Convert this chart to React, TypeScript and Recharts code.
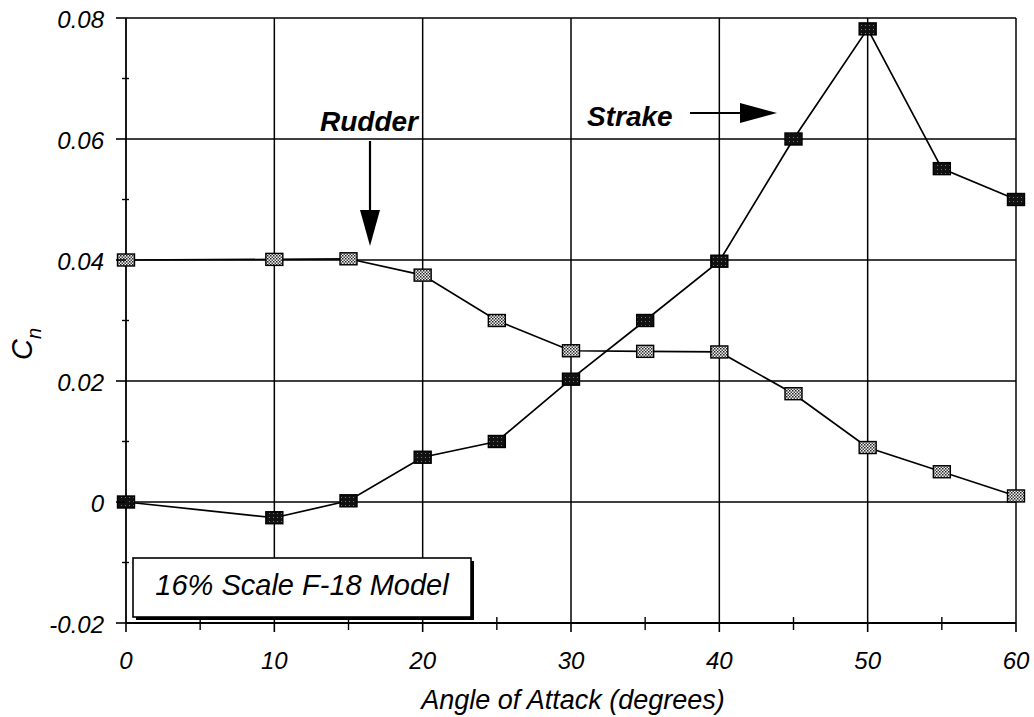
import { Line, LineChart, ReferenceLine, XAxis, YAxis } from "recharts";

// angle of attack, degrees
const angles = [0, 10, 15, 20, 25, 30, 35, 40, 45, 50, 55, 60];
// yawing moment coefficient Cn
const rudder = [0.04, 0.0401, 0.0402, 0.0375, 0.03, 0.025, 0.0249, 0.0248, 0.0179, 0.009, 0.005, 0.001];
const strake = [0, -0.0026, 0.0002, 0.0074, 0.01, 0.0203, 0.03, 0.0398, 0.06, 0.0782, 0.0551, 0.05];

const xTicks = [0, 10, 20, 30, 40, 50, 60];
const xMinorTicks = [5, 15, 25, 35, 45, 55];
const yTicks = [-0.02, 0, 0.02, 0.04, 0.06, 0.08];
const yMinorTicks = [-0.01, 0.01, 0.03, 0.05, 0.07];

const data = angles.map((angle, i) => ({ angle, rudder: rudder[i], strake: strake[i] }));

const FONT = "'Liberation Sans', Arial, sans-serif";

const fmtY = (v: number) => (Math.abs(v) < 1e-9 ? "0" : v.toFixed(2));

const XTick = ({ x, y, payload }: any) => {
  const major = xTicks.includes(payload.value);
  if (!major) {
    return <line x1={x} x2={x} y1={y - 6} y2={y + 7} stroke="#000" strokeWidth={1.4} />;
  }
  return (
    <g>
      <line x1={x} x2={x} y1={y} y2={y + 9} stroke="#000" strokeWidth={1.6} />
      <text x={x} y={y + 46} textAnchor="middle" fontFamily={FONT} fontStyle="italic" fontSize={24} fill="#000">
        {payload.value}
      </text>
    </g>
  );
};

const YTick = ({ x, y, payload }: any) => {
  const major = yTicks.some((t) => Math.abs(t - payload.value) < 1e-9);
  if (!major) {
    return <line x1={x - 4} x2={x + 3} y1={y} y2={y} stroke="#000" strokeWidth={1.4} />;
  }
  return (
    <g>
      <line x1={x - 10} x2={x} y1={y} y2={y} stroke="#000" strokeWidth={1.6} />
      <text x={x - 22} y={y + 10} textAnchor="end" fontFamily={FONT} fontStyle="italic" fontSize={24} fill="#000">
        {fmtY(payload.value)}
      </text>
    </g>
  );
};

const RudderDot = ({ cx, cy, index }: any) => (
  <rect key={`r${index}`} x={cx - 8.5} y={cy - 6} width={17} height={12} fill="url(#rudderPat)" stroke="#000" strokeWidth={1.4} />
);

const StrakeDot = ({ cx, cy, index }: any) => (
  <rect key={`s${index}`} x={cx - 8.5} y={cy - 6} width={17} height={12} fill="url(#strakePat)" stroke="#000" strokeWidth={1.4} />
);

export default function App() {
  return (
    <div style={{ position: "absolute", left: 0, top: 0, width: 1034, height: 717, background: "#fff" }}>
      <svg width={0} height={0} style={{ position: "absolute" }}>
        <defs>
          <pattern id="rudderPat" patternUnits="userSpaceOnUse" width={3} height={3}>
            <rect width={3} height={3} fill="#f2f2f2" />
            <rect width={1.5} height={1.5} fill="#222" />
            <rect x={1.5} y={1.5} width={1.5} height={1.5} fill="#444" />
          </pattern>
          <pattern id="strakePat" patternUnits="userSpaceOnUse" width={4} height={4}>
            <rect width={4} height={4} fill="#111" />
            <rect x={1} y={1} width={1} height={1} fill="#777" />
          </pattern>
        </defs>
      </svg>
      <LineChart width={1034} height={717} data={data} margin={{ top: 18, right: 18, bottom: 34, left: 0 }}>
        <XAxis
          dataKey="angle"
          type="number"
          domain={[0, 60]}
          ticks={[...xTicks, ...xMinorTicks].sort((a, b) => a - b)}
          tick={<XTick />}
          tickLine={false}
          tickSize={0}
          tickMargin={0}
          height={60}
          axisLine={{ stroke: "#000", strokeWidth: 1.8 }}
          interval={0}
        />
        <YAxis
          type="number"
          domain={[-0.02, 0.08]}
          ticks={[...yTicks, ...yMinorTicks].sort((a, b) => a - b)}
          tick={<YTick />}
          tickLine={false}
          tickSize={0}
          tickMargin={0}
          width={126}
          axisLine={{ stroke: "#000", strokeWidth: 1.8 }}
          interval={0}
          allowDataOverflow
        />
        {xTicks.slice(1).map((v) => (
          <ReferenceLine key={`gx${v}`} x={v} stroke="#000" strokeWidth={1.5} />
        ))}
        {yTicks.slice(1).map((v) => (
          <ReferenceLine key={`gy${v}`} y={v} stroke="#000" strokeWidth={1.5} />
        ))}
        <Line
          dataKey="rudder"
          stroke="#000"
          strokeWidth={1.7}
          dot={<RudderDot />}
          activeDot={false}
          isAnimationActive={false}
        />
        <Line
          dataKey="strake"
          stroke="#000"
          strokeWidth={1.7}
          dot={<StrakeDot />}
          activeDot={false}
          isAnimationActive={false}
        />
      </LineChart>
      <svg width={1034} height={717} style={{ position: "absolute", left: 0, top: 0, pointerEvents: "none" }}>
        <text x={32} y={344} transform="rotate(-90 32 344)" textAnchor="middle" fontFamily={FONT} fontStyle="italic" fontSize={29} fill="#000">
          C<tspan fontSize={20} dy={9}>n</tspan>
        </text>
        <text x={573} y={709} textAnchor="middle" fontFamily={FONT} fontStyle="italic" fontSize={27} fill="#000">
          Angle of Attack (degrees)
        </text>
        <text x={320} y={131} fontFamily={FONT} fontStyle="italic" fontWeight="bold" fontSize={28} fill="#000">
          Rudder
        </text>
        <line x1={370} x2={370} y1={141} y2={212} stroke="#000" strokeWidth={2.2} />
        <polygon points="360,210 380,210 370,246" fill="#000" />
        <text x={587} y={126} fontFamily={FONT} fontStyle="italic" fontWeight="bold" fontSize={28} fill="#000">
          Strake
        </text>
        <line x1={690} x2={745} y1={113} y2={113} stroke="#000" strokeWidth={2.2} />
        <polygon points="740,103 740,123 777,113" fill="#000" />
        <rect x={136} y={561} width={338} height={59} fill="#000" />
        <rect x={133} y={558} width={338} height={59} fill="#fff" stroke="#000" strokeWidth={1.6} />
        <text x={302} y={595} textAnchor="middle" fontFamily={FONT} fontStyle="italic" fontSize={29} fill="#000">
          16% Scale F-18 Model
        </text>
      </svg>
    </div>
  );
}
